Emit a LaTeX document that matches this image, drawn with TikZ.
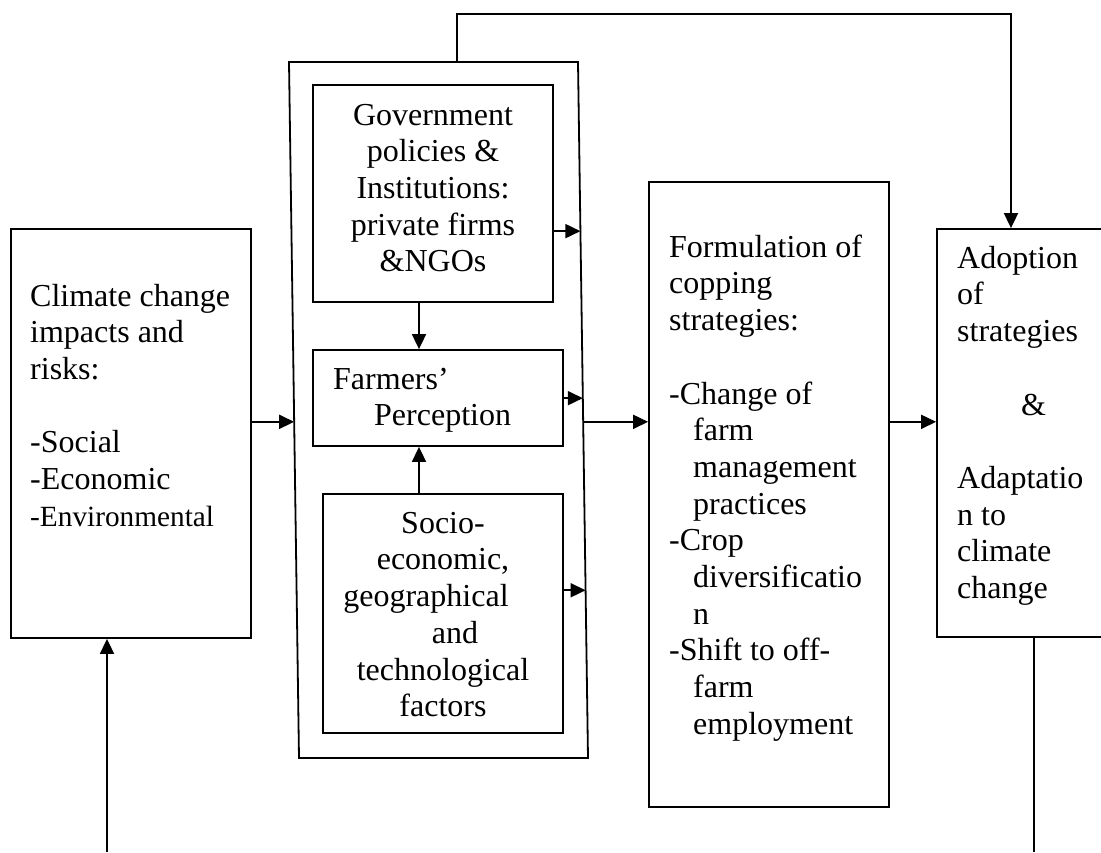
\documentclass[tikz,border=0pt]{standalone}
\usepackage{fontspec}
\setmainfont{Liberation Serif}
\usepackage{tikz}
\usetikzlibrary{calc,arrows.meta}
\newcommand{\bodyfont}{\fontsize{32}{36.7}\selectfont}
\newcommand{\envfont}{\fontsize{29.3}{36.7}\selectfont}

\begin{document}
\begin{tikzpicture}[x=1pt,y=-1pt,
  box/.style={draw,line width=1.8pt,inner sep=0pt},
  txt/.style={inner sep=0pt,align=left,font=\bodyfont},
  arr/.style={line width=1.8pt,-{Triangle[length=15pt,width=14pt]}}]
% line skip & first line height
\newcommand{\lnsk}{36.7pt}
\newcommand{\fst}{25.7}
\clip (0,0) rectangle (1101,852);

% Boxes
\node[box,minimum width=240pt,minimum height=409pt] (clim) at (131,433.5) {};
\node[box,minimum width=240pt,minimum height=217pt] (gov) at (433,193.5) {};
\node[box,minimum width=250pt,minimum height=96pt] (farm) at (438,398) {};
\node[box,minimum width=240pt,minimum height=239pt] (socio) at (443,613.5) {};
\node[box,minimum width=240pt,minimum height=625pt] (form) at (769,494.5) {};
\node[box,minimum width=175pt,minimum height=408pt] (adopt) at (1024.5,433) {};
% Outer frame
\coordinate (otl) at (289,62);
\coordinate (otr) at (578,62);
\coordinate (obr) at (588,758);
\coordinate (obl) at (299,758);
\draw[line width=1.8pt] (otl)--(otr)--(obr)--(obl)--cycle;

% Texts
\node[txt,anchor=north west] (climtxt) at (30,306-\fst)
  {\strut Climate change\\impacts and\\risks:\\[\lnsk]-Social\\-Economic\\{\envfont -Environmental}};
\node[txt,align=center,anchor=north] (govtxt) at (433,125-\fst)
  {\strut Government\\policies \&\\Institutions:\\private firms\\\&NGOs};
\node[txt,anchor=north west] (farmtxt) at (333,389-\fst)
  {\strut Farmers’\\\hspace*{41pt}Perception};
\node[txt,align=center,anchor=north] (sociotxt) at (443,533-\fst)
  {\strut Socio-\\economic,\\geographical\rule{34pt}{0pt}\\\hspace*{24pt}and\\technological\\factors};
\node[txt,anchor=north west] (formtxt) at (669,257-\fst)
  {\strut Formulation of\\copping\\strategies:\\[\lnsk]-Change of\\\hspace*{24pt}farm\\\hspace*{24pt}management\\\hspace*{24pt}practices\\-Crop\\\hspace*{24pt}diversificatio\\\hspace*{24pt}n\\-Shift to off-\\\hspace*{24pt}farm\\\hspace*{24pt}employment};
\node[txt,anchor=north west] (adopttxt) at (957,268-\fst)
  {\strut Adoption\\of\\strategies\\[\lnsk]\hspace*{64pt}\&\\[\lnsk]Adaptatio\\n to\\climate\\change};

% Arrows
\coordinate (lm) at ($(otl)!0.517!(obl)$);
\coordinate (rm) at ($(otr)!0.517!(obr)$);
\coordinate (rg) at ($(otr)!0.243!(obr)$);
\coordinate (rf) at ($(otr)!0.483!(obr)$);
\coordinate (rs) at ($(otr)!0.759!(obr)$);
\coordinate (vx) at (419,0);
\coordinate (otop) at (457,62);
\coordinate (cbot) at (107,852);
\coordinate (abot) at (1034,852);
\draw[arr] (clim.east |- lm) -- (lm);
\draw[arr] (gov.east |- rg) -- (rg);
\draw[arr] (farm.east |- rf) -- (rf);
\draw[arr] (socio.east |- rs) -- (rs);
\draw[arr] (gov.south -| vx) -- (farm.north -| vx);
\draw[arr] (socio.north -| vx) -- (farm.south -| vx);
\draw[arr] (rm) -- (form.west |- rm);
\draw[arr] (form.east |- rm) -- (adopt.west |- rm);
\draw[arr] (otop) -- ++(0,-48) -| ([xshift=-13.5pt]adopt.north);
\draw[arr] (cbot) -- (clim.south -| cbot);
\draw[line width=1.8pt] (adopt.south -| abot) -- (abot);
\end{tikzpicture}
\end{document}
